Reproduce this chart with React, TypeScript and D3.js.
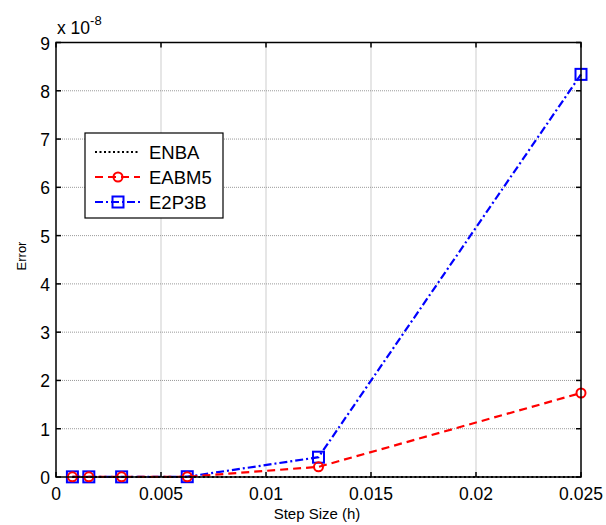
import { useEffect, useRef } from 'react';
import * as d3 from 'd3';

const stepSizes = [0.00078125, 0.0015625, 0.003125, 0.00625, 0.0125, 0.025];
const enba = [0.0, 0.0, 0.0, 0.0, 0.0, 0.0];
const eabm5 = [0.003, 0.003, 0.003, 0.005, 0.21, 1.74];
const e2p3b = [0.003, 0.003, 0.003, 0.006, 0.41, 8.34];
const xTicks = [0, 0.005, 0.01, 0.015, 0.02, 0.025];
const xTickLabels = ['0', '0.005', '0.01', '0.015', '0.02', '0.025'];
const yTicks = [0, 1, 2, 3, 4, 5, 6, 7, 8, 9];
const seriesNames = ['ENBA', 'EABM5', 'E2P3B'];

export default function App() {
  const svgRef = useRef<SVGSVGElement>(null);

  useEffect(() => {
    if (!svgRef.current) return;
    const svg = d3.select(svgRef.current);
    svg.selectAll('*').remove();

    const left = 56, right = 581, top = 42.5, bottom = 477;
    const font = 'Liberation Sans, Arial, sans-serif';

    const x = d3.scaleLinear().domain([0, 0.025]).range([left, right]);
    const y = d3.scaleLinear().domain([0, 9]).range([bottom, top]);

    svg.append('rect').attr('width', 606).attr('height', 525).attr('fill', '#fff');

    // grid
    const grid = svg.append('g').attr('stroke', '#9a9a9a').attr('stroke-width', 1).attr('stroke-dasharray', '1,1');
    xTicks.slice(1, -1).forEach(t => {
      grid.append('line').attr('x1', x(t)).attr('x2', x(t)).attr('y1', top).attr('y2', bottom);
    });
    yTicks.slice(1, -1).forEach(t => {
      grid.append('line').attr('x1', left).attr('x2', right).attr('y1', y(t)).attr('y2', y(t));
    });

    // series
    const line = d3.line<[number, number]>().x(d => x(d[0])).y(d => y(d[1]));
    const styles = [
      { data: enba, color: '#000', dash: '2,2.5' },
      { data: eabm5, color: '#ff0000', dash: '8,5' },
      { data: e2p3b, color: '#0000ff', dash: '8,3,2,3' },
    ];

    const drawMarkers = (g: any, i: number, cx: number, cy: number) => {
      if (i === 1) {
        g.append('circle').attr('cx', cx).attr('cy', cy).attr('r', 4.5)
          .attr('fill', 'none').attr('stroke', '#ff0000').attr('stroke-width', 2);
      } else if (i === 2) {
        g.append('rect').attr('x', cx - 5.5).attr('y', cy - 5.5).attr('width', 11).attr('height', 11)
          .attr('fill', 'none').attr('stroke', '#0000ff').attr('stroke-width', 2);
      }
    };

    // draw order: E2P3B first, then EABM5, then ENBA on top
    [2, 1, 0].forEach(i => {
      const s = styles[i];
      const pts = stepSizes.map((h, k) => [h, s.data[k]] as [number, number]);
      svg.append('path').attr('d', line(pts)).attr('fill', 'none')
        .attr('stroke', s.color).attr('stroke-width', 2.2).attr('stroke-dasharray', s.dash);
      const g = svg.append('g');
      pts.forEach(p => drawMarkers(g, i, x(p[0]), y(p[1])));
    });

    // axes box
    const box = svg.append('g').attr('stroke', '#000').attr('stroke-width', 1.5);
    box.append('rect').attr('x', left).attr('y', top).attr('width', right - left).attr('height', bottom - top).attr('fill', 'none');
    xTicks.forEach(t => {
      box.append('line').attr('x1', x(t)).attr('x2', x(t)).attr('y1', bottom).attr('y2', bottom - 5);
      box.append('line').attr('x1', x(t)).attr('x2', x(t)).attr('y1', top).attr('y2', top + 5);
    });
    yTicks.forEach(t => {
      box.append('line').attr('x1', left).attr('x2', left + 5).attr('y1', y(t)).attr('y2', y(t));
      box.append('line').attr('x1', right).attr('x2', right - 5).attr('y1', y(t)).attr('y2', y(t));
    });

    // tick labels
    const labels = svg.append('g').attr('font-family', font).attr('font-size', 17.5).attr('fill', '#000');
    xTicks.forEach((t, k) => {
      labels.append('text').attr('x', x(t)).attr('y', bottom + 22.5).attr('text-anchor', 'middle').text(xTickLabels[k]);
    });
    yTicks.forEach(t => {
      labels.append('text').attr('x', left - 6).attr('y', y(t) + 7).attr('text-anchor', 'end').text(String(t));
    });

    // exponent
    const exp = svg.append('text').attr('font-family', font).attr('font-size', 17.5).attr('x', 57).attr('y', 34);
    exp.append('tspan').text('x 10');
    exp.append('tspan').attr('font-size', 13).attr('dy', -9).text('-8');

    // axis labels
    svg.append('text').attr('font-family', font).attr('font-size', 15)
      .attr('x', 317).attr('y', 519).attr('text-anchor', 'middle').text('Step Size (h)');
    svg.append('text').attr('font-family', font).attr('font-size', 13)
      .attr('transform', `translate(26,256) rotate(-90)`).attr('text-anchor', 'middle').text('Error');

    // legend
    const lg = svg.append('g');
    lg.append('rect').attr('x', 85).attr('y', 133).attr('width', 138).attr('height', 85)
      .attr('fill', '#fff').attr('stroke', '#000').attr('stroke-width', 1.2);
    const rowY = [152, 177, 202];
    seriesNames.forEach((name, i) => {
      const s = styles[i];
      lg.append('line').attr('x1', 95).attr('x2', 140).attr('y1', rowY[i]).attr('y2', rowY[i])
        .attr('stroke', s.color).attr('stroke-width', 2.2).attr('stroke-dasharray', s.dash);
      drawMarkers(lg, i, 118, rowY[i]);
      lg.append('text').attr('font-family', font).attr('font-size', 18.5).attr('x', 149).attr('y', rowY[i] + 7)
        .text(name);
    });
  }, []);

  return (
    <svg ref={svgRef} width={606} height={525}
      style={{ position: 'absolute', left: 0, top: 0, display: 'block' }} />
  );
}
